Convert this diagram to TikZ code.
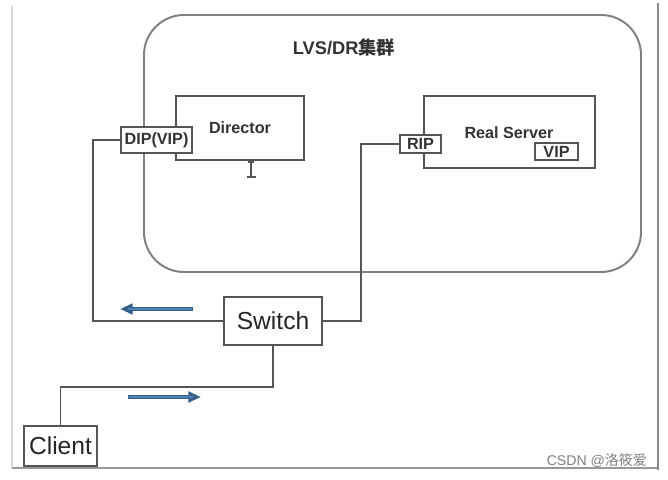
\documentclass[tikz,border=0pt]{standalone}
\usepackage{fontspec}
\setmainfont{Liberation Sans}
\newfontfamily\cjk{Noto Sans CJK SC}
\usetikzlibrary{arrows.meta}
\definecolor{boxline}{RGB}{85,85,85}
\definecolor{flow}{RGB}{80,132,182}
\definecolor{flowedge}{RGB}{55,95,135}
\begin{document}
\begin{tikzpicture}[
x=0.025cm,y=-0.025cm,
box/.style={draw=boxline,line width=1.1pt,inner sep=0,fill=white},
port/.style={box,text=black!80,font=\fontsize{11.5}{12}\selectfont\bfseries},
device/.style={box,text=black!85,font=\fontsize{17.5}{18}\selectfont},
label/.style={font=\fontsize{11.5}{12}\selectfont\bfseries,text=black!80},
wire/.style={draw=boxline,line width=1.1pt},
flowarrow/.style={line width=3pt,flowedge,-{Triangle[length=9pt,width=7.5pt]}},
]
\useasboundingbox(0,0)rectangle(668,479);
%frame
\draw[black!15,line width=0.8pt](12,6)--(12,468);
\draw[black!40,line width=1pt](12,468)--(658,468);
\draw[black!45,line width=1.2pt](658,3)--(658,470);

%cluster
\draw[black!50,line width=1.4pt,rounded corners=1cm](144,15)rectangle(641,272);
\node[font=\fontsize{13}{14}\selectfont\bfseries,text=black!80]at(344,47)(title){LVS/DR{\cjk 集群}};

%servers
\node[box,minimum width=128*0.025cm,minimum height=64*0.025cm]at(240,128)(director){};
\node[label]at(240,128)(dirtext){Director};
\node[box,minimum width=171*0.025cm,minimum height=72*0.025cm]at(509.5,132)(rs){};
\node[label]at(509,133)(rstext){Real Server};

%addresses
\node[port,minimum width=71*0.025cm,minimum height=26*0.025cm]at(156.5,140)(dip){DIP(VIP)};
\node[port,minimum width=41*0.025cm,minimum height=18*0.025cm]at(420.5,144)(rip){RIP};
\node[port,minimum width=43*0.025cm,minimum height=17*0.025cm]at(556.5,151.5)(vip){VIP};

%cursor
\draw[boxline,line width=0.9pt](248,162)--(254,162);
\draw[boxline,line width=0.9pt](251,162)--(251,177);
\draw[boxline,line width=0.9pt](246.5,177)--(255.5,177);

%network
\node[device,minimum width=98*0.025cm,minimum height=48*0.025cm]at(273,321)(switch){Switch};
\node[device,minimum width=73*0.025cm,minimum height=40*0.025cm]at(60.5,446)(client){Client};

\draw[wire](dip.west)--++(-27,0)|-(switch.west);
\draw[wire](rip.west)--++(-38,0)|-(switch.east);
\draw[wire](switch.south)--++(0,41)-|(client.north);

%flow
\draw[flowarrow](193,309)--(120,309);
\draw[flowarrow](128,397)--(201,397);
\draw[flow,line width=1.6pt,shorten >=3pt](192,309)--(124,309);
\draw[flow,line width=1.6pt,shorten >=3pt](129,397)--(197,397);

%watermark
\node[font=\fontsize{10}{11}\selectfont,text=black!50,anchor=east]at(652,461)(mark){CSDN @{\cjk 洛筱爱}};
\end{tikzpicture}
\end{document}
